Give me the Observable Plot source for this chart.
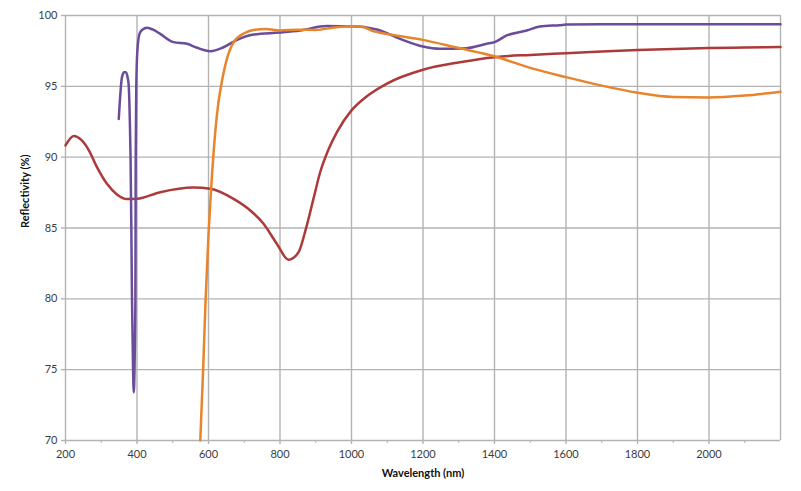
<!DOCTYPE html>
<html>
<head>
<meta charset="utf-8">
<script src="https://cdn.jsdelivr.net/npm/d3@7"></script>
<script src="https://cdn.jsdelivr.net/npm/@observablehq/plot@0.6"></script>
<style>
  html, body { margin: 0; padding: 0; background: #fff; }
  svg { display: block; }
</style>
</head>
<body>
<div id="chart"></div>
<script>
// ---- data ----
const redWavelength = [200, 223, 245, 265, 288, 316, 344, 372, 400, 465, 558, 605, 670, 717, 754, 791, 824, 852, 872, 893, 912, 935, 960, 1000, 1043, 1098, 1200, 1303, 1400, 1500, 1600, 1700, 1800, 1900, 2000, 2100, 2200];
const redReflect    = [90.83, 91.5, 91.2, 90.5, 89.3, 88.12, 87.37, 87.04, 87.06, 87.53, 87.86, 87.77, 87.06, 86.24, 85.3, 83.89, 82.76, 83.3, 84.9, 87.0, 88.9, 90.5, 91.8, 93.3, 94.3, 95.18, 96.17, 96.7, 97.06, 97.22, 97.34, 97.46, 97.56, 97.64, 97.7, 97.74, 97.77];

const purpleWavelength = [349, 358, 364, 369, 374, 377, 380, 382, 384.5, 386, 389, 391, 393, 395.5, 396, 396.4, 398, 401, 407, 415, 428, 445, 465, 502, 540, 568, 605, 642, 680, 726, 800, 856, 931, 1000, 1071, 1136, 1200, 1247, 1322, 1378, 1400, 1434, 1490, 1527, 1583, 1601, 1700, 1800, 2000, 2200];
const purpleReflect    = [92.7, 95.65, 96.0, 96.0, 95.6, 95.0, 92.5, 90.0, 84.0, 80.0, 75.0, 73.4, 75.0, 80.0, 85.0, 90.0, 95.0, 97.5, 98.7, 99.0, 99.13, 99.0, 98.7, 98.12, 98.0, 97.72, 97.48, 97.76, 98.28, 98.66, 98.8, 98.94, 99.25, 99.25, 99.01, 98.35, 97.81, 97.65, 97.69, 98.0, 98.12, 98.59, 98.94, 99.22, 99.32, 99.36, 99.38, 99.38, 99.38, 99.38];

const orangeWavelength = [577, 585, 592, 600, 610, 619, 628, 635, 650, 670, 700, 730, 760, 800, 850, 900, 950, 1000, 1030, 1060, 1100, 1200, 1300, 1400, 1500, 1600, 1700, 1800, 1900, 2000, 2100, 2200];
const orangeReflect    = [70.0, 75.0, 80.0, 84.5, 88.8, 91.8, 93.9, 95.0, 96.8, 98.1, 98.75, 99.0, 99.05, 98.95, 99.0, 98.98, 99.15, 99.25, 99.2, 98.9, 98.7, 98.28, 97.7, 97.12, 96.3, 95.65, 95.05, 94.55, 94.25, 94.22, 94.35, 94.62];

const xMajorTicks = [200, 400, 600, 800, 1000, 1200, 1400, 1600, 1800, 2000];
const xGrid = [200, 400, 600, 800, 1000, 1200, 1400, 1600, 1800, 2000, 2200];
const xMinorTicks = [300, 500, 700, 900, 1100, 1300, 1500, 1700, 1900, 2100];
const yTicks = [70, 75, 80, 85, 90, 95, 100];

const xTitle = "Wavelength (nm)";
const yTitle = "Reflectivity (%)";

const seriesColors = {red: "#ad3a3a", purple: "#6a4c9b", orange: "#e8842c"};

// build row tables
const toRows = (xs, ys) => xs.map((x, i) => ({x, y: ys[i]}));
const red = toRows(redWavelength, redReflect);
const purple = toRows(purpleWavelength, purpleReflect);
const orange = toRows(orangeWavelength, orangeReflect);

const gridColor = "#b3b3b3";
const textColor = "#3c3c3c";
const fmt = d => String(d);

const chart = Plot.plot({
  width: 801,
  height: 491,
  marginLeft: 65,
  marginRight: 21,
  marginTop: 15,
  marginBottom: 51,
  style: {fontFamily: "Lato, 'Open Sans', sans-serif", fontSize: "11px", background: "#fff", color: textColor},
  x: {domain: [200, 2200]},
  y: {domain: [70, 100]},
  marks: [
    Plot.gridX(xGrid, {stroke: gridColor, strokeOpacity: 1, strokeWidth: 1.4}),
    Plot.gridY(yTicks, {stroke: gridColor, strokeOpacity: 1, strokeWidth: 1.4}),
    Plot.axisX(xMajorTicks, {tickSize: 4, tickPadding: 6, stroke: gridColor, strokeWidth: 1.4, fill: textColor, label: null, tickFormat: fmt}),
    Plot.axisX(xMinorTicks, {tickSize: 3, text: null, stroke: gridColor, strokeWidth: 1, label: null}),
    Plot.axisY(yTicks, {tickSize: 4, tickPadding: 4, stroke: gridColor, strokeWidth: 1.4, fill: textColor, label: null, tickFormat: fmt}),
    Plot.line(red, {x: "x", y: "y", stroke: seriesColors.red, strokeWidth: 2.5, curve: "monotone-x"}),
    Plot.line(purple, {x: "x", y: "y", stroke: seriesColors.purple, strokeWidth: 2.5, curve: "monotone-x"}),
    Plot.line(orange, {x: "x", y: "y", stroke: seriesColors.orange, strokeWidth: 2.5, curve: "monotone-x"}),
    Plot.text([xTitle], {frameAnchor: "bottom", dy: 33, text: d => d, fontWeight: "bold", fontSize: 11, fill: "#111", lineAnchor: "middle"}),
    Plot.text([yTitle], {frameAnchor: "left", dx: -40, rotate: -90, text: d => d, fontWeight: "bold", fontSize: 11, fill: "#111", lineAnchor: "middle"})
  ]
});
document.getElementById("chart").appendChild(chart);
</script>
</body>
</html>
